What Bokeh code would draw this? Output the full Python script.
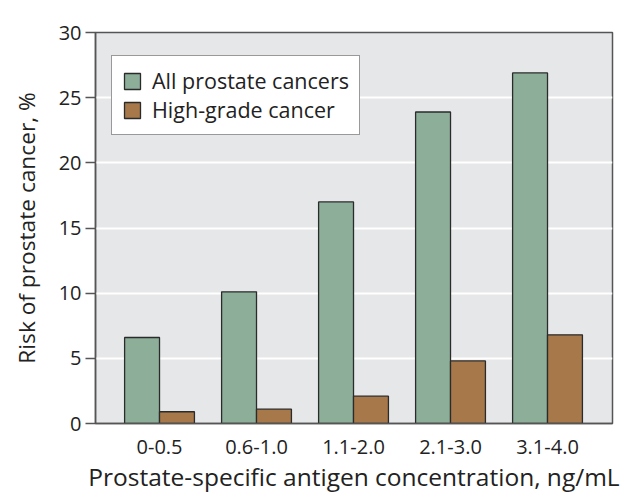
from bokeh.plotting import figure
from bokeh.models import Range1d, FixedTicker, ColumnDataSource, Legend, LegendItem
from bokeh.transform import dodge
from bokeh.embed import file_html
from bokeh.resources import INLINE

categories = ["0-0.5", "0.6-1.0", "1.1-2.0", "2.1-3.0", "3.1-4.0"]
all_cancers = [6.6, 10.1, 17.0, 23.9, 26.9]
high_grade = [0.9, 1.1, 2.1, 4.8, 6.8]
y_ticks = [0, 5, 10, 15, 20, 25, 30]

FONT = "Open Sans"
GREEN = "#8daf9a"
BROWN = "#a77849"
EDGE = "#2b2b2b"

xs = list(range(1, len(categories) + 1))
src = ColumnDataSource(dict(x=xs, all=all_cancers, high=high_grade))

p = figure(width=629, height=503, output_backend="svg", toolbar_location=None,
           x_range=Range1d(0.34, 5.67), y_range=Range1d(0, 30))
p.min_border_left = 95
p.min_border_right = 17
p.min_border_top = 32
p.min_border_bottom = 80
p.background_fill_color = "#e6e7e9"
p.border_fill_color = "white"
p.outline_line_color = "#555555"
p.outline_line_width = 1.5

r1 = p.vbar(x=dodge("x", -0.18, range=p.x_range), top="all", width=0.36, source=src,
            fill_color=GREEN, line_color=EDGE, line_width=1.3)
r2 = p.vbar(x=dodge("x", 0.18, range=p.x_range), top="high", width=0.36, source=src,
            fill_color=BROWN, line_color=EDGE, line_width=1.3)

p.xgrid.grid_line_color = None
p.ygrid.grid_line_color = "white"
p.ygrid.grid_line_width = 2
p.ygrid.ticker = FixedTicker(ticks=y_ticks)

p.xaxis.ticker = FixedTicker(ticks=xs)
p.xaxis.major_label_overrides = {i: c for i, c in zip(xs, categories)}
p.xaxis.major_tick_line_color = None
p.xaxis.minor_tick_line_color = None
p.xaxis.axis_line_color = "#555555"
p.xaxis.axis_line_width = 1.5
p.xaxis.major_label_standoff = 10
p.xaxis.axis_label = "Prostate-specific antigen concentration, ng/mL"
p.xaxis.axis_label_standoff = 3

p.yaxis.ticker = FixedTicker(ticks=y_ticks)
p.yaxis.minor_tick_line_color = None
p.yaxis.major_tick_out = 10
p.yaxis.major_tick_in = 0
p.yaxis.major_tick_line_color = "#555555"
p.yaxis.major_tick_line_width = 1.5
p.yaxis.axis_line_color = "#555555"
p.yaxis.axis_line_width = 1.5
p.yaxis.major_label_standoff = 4
p.yaxis.axis_label = "Risk of prostate cancer, %"
p.yaxis.axis_label_standoff = 14

for ax in (p.xaxis[0], p.yaxis[0]):
    ax.major_label_text_font = FONT
    ax.major_label_text_font_size = "20px"
    ax.major_label_text_color = "#222222"
    ax.axis_label_text_font = FONT
    ax.axis_label_text_font_style = "normal"
    ax.axis_label_text_color = "#222222"
p.xaxis.axis_label_text_font_size = "24.5px"
p.yaxis.axis_label_text_font_size = "22.7px"

legend = Legend(items=[LegendItem(label="All prostate cancers", renderers=[r1]),
                       LegendItem(label="High-grade cancer", renderers=[r2])],
                location=(16, 288))
legend.glyph_width = 20
legend.glyph_height = 20
legend.label_text_font = FONT
legend.label_text_font_size = "21.5px"
legend.label_text_color = "#222222"
legend.label_standoff = 10
legend.spacing = 0
legend.padding = 10
legend.margin = 0
legend.border_line_color = "#333333"
legend.border_line_width = 1.5
legend.background_fill_color = "white"
legend.background_fill_alpha = 1
p.add_layout(legend)

open("out.html", "w").write(file_html(p, INLINE))
